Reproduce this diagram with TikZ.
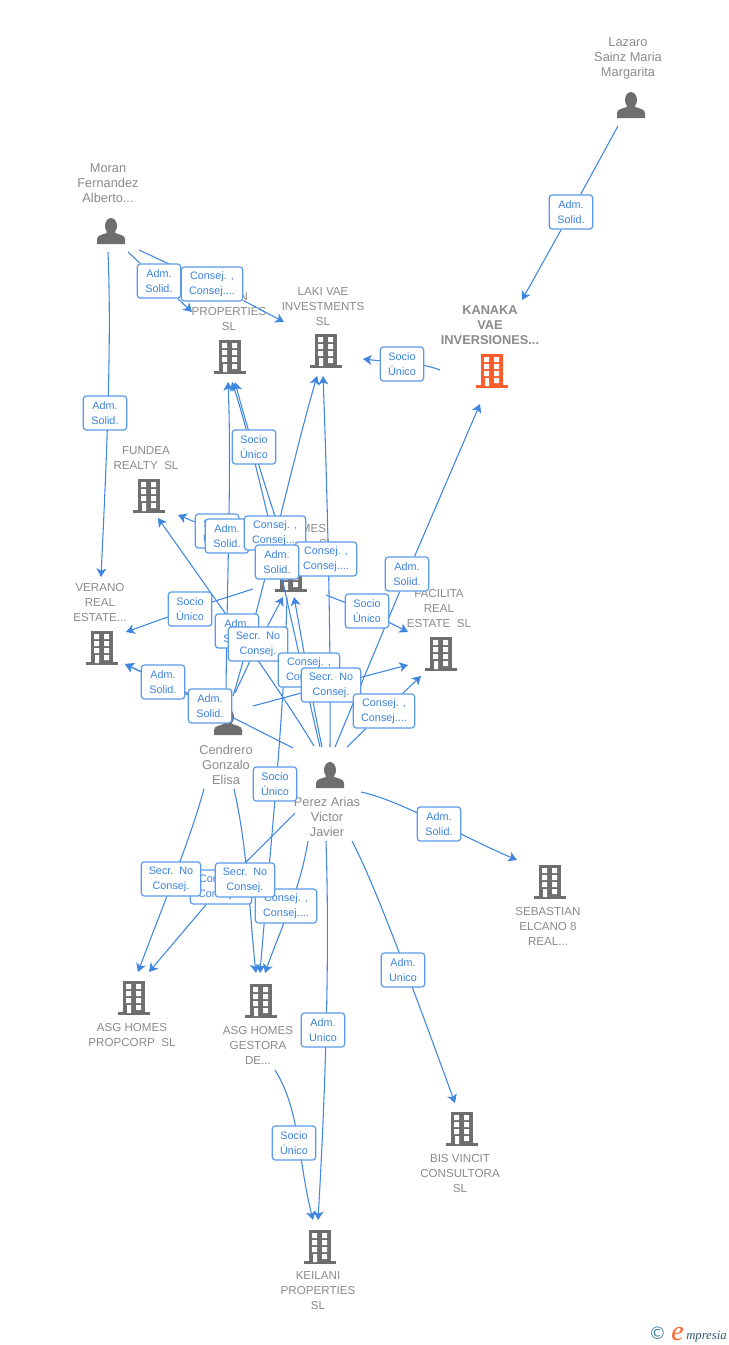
\documentclass[tikz,border=0pt]{standalone}
\usepackage{fontspec}
\setmainfont{Liberation Sans}
\newfontfamily\logoserif{Liberation Serif}
\newfontfamily\dejavu{DejaVu Sans}
\usetikzlibrary{arrows.meta}
\definecolor{edgeblue}{HTML}{3F86E0}
\definecolor{boxblue}{HTML}{5B9AE8}
\definecolor{labblue}{HTML}{3B82DC}
\definecolor{entgray}{HTML}{8A8A8A}
\definecolor{icongray}{HTML}{6E6E6E}
\definecolor{iconorange}{HTML}{FF5E2C}
\definecolor{logoteal}{HTML}{3F7F9F}
\pgfdeclarelayer{ents}
\pgfdeclarelayer{edges}
\pgfsetlayers{ents,edges,main}
\tikzset{
  x=0.75pt,y=-0.75pt,
  edge/.style={draw=edgeblue,line width=0.8pt,-{Stealth[length=6.5pt,width=7.5pt,inset=1.8pt]}},
  linkbox/.style={draw=boxblue,line width=0.9pt,fill=white,rounded corners=2.2pt,text=labblue,
    font=\fontsize{8.1}{11.25}\selectfont,align=center,inner sep=0pt,minimum height=25.5pt},
  sbox/.style={linkbox,minimum width=32.5pt},
  mbox/.style={linkbox,minimum width=44.5pt},
  cbox/.style={linkbox,minimum width=46pt},
  ent/.style={text=entgray,font=\fontsize{8.7}{11.25}\selectfont,align=center,inner sep=0pt},
  pers/.style={ent,font=\fontsize{9.6}{11.25}\selectfont},
  entb/.style={ent,font=\fontsize{9.6}{11.25}\selectfont\bfseries},
  pics/bldg/.style={code={
    \fill[#1] (-11,-17) rectangle (11,15);
    \fill[#1] (-16,14) rectangle (16,17);
    \fill[white] (-8,-14) rectangle (-3,-9) (2,-14) rectangle (7,-9)
      (-8,-7) rectangle (-3,-2) (2,-7) rectangle (7,-2)
      (-8,0) rectangle (-3,5) (2,0) rectangle (7,5)
      (-7,7) rectangle (-3,15) (2,7) rectangle (7,12);
  }},
  pics/person/.style={code={
    \fill[icongray] (0,-5) ellipse (6 and 8);
    \fill[icongray] (-14,13) -- (-14,8) .. controls (-14,3) and (-6,4) .. (-3,1) -- (3,1)
      .. controls (6,4) and (14,3) .. (14,8) -- (14,13) -- cycle;
  }},
}
\newcommand{\Adm}{Adm.\\Solid.}
\newcommand{\Soc}{Socio\\Único}
\newcommand{\Con}{Consej. ,\\Consej....}
\newcommand{\Sec}{Secr.\ \ No\\Consej.}
\newcommand{\Uni}{Adm.\\Unico}
\begin{document}
\begin{tikzpicture}
\useasboundingbox (0,0) rectangle (728,1345);

% ---------- link labels (painted in stacking order)
\node[sbox] (l1)  at (571,212) {\Adm};
\node[sbox] (l2)  at (159,281) {\Adm};
\node[cbox] (l3)  at (212,284) {\Con};
\node[sbox] (l4)  at (105,413) {\Adm};
\node[sbox] (l5)  at (402,364) {\Soc};
\node[sbox] (l6)  at (254,447) {\Soc};
\node[sbox] (l7)  at (217,531) {\Soc};
\node[sbox] (l8)  at (227,536) {\Adm};
\node[cbox] (l9)  at (275,533) {\Con};
\node[cbox] (l10) at (326,559) {\Con};
\node[sbox] (l11) at (277,562) {\Adm};
\node[sbox] (l12) at (407,574) {\Adm};
\node[sbox] (l13) at (190,609) {\Soc};
\node[sbox] (l14) at (367,611) {\Soc};
\node[sbox] (l15) at (237,631) {\Adm};
\node[mbox] (l16) at (258,644) {\Sec};
\node[cbox] (l17) at (309,670) {\Con};
\node[mbox] (l18) at (331,685) {\Sec};
\node[cbox] (l19) at (384,711) {\Con};
\node[sbox] (l20) at (163,682) {\Adm};
\node[sbox] (l21) at (210,706) {\Adm};
\node[sbox] (l22) at (275,784) {\Soc};
\node[sbox] (l23) at (439,824) {\Adm};
\node[cbox] (l24) at (221,887) {\Con};
\node[cbox] (l25) at (286,906) {\Con};
\node[mbox] (l26) at (171,879) {\Sec};
\node[mbox] (l27) at (245,880) {\Sec};
\node[sbox] (l28) at (403,970) {\Uni};
\node[sbox] (l29) at (323,1030) {\Uni};
\node[sbox] (l30) at (294,1143) {\Soc};

% ---------- entities
\begin{pgfonlayer}{ents}
\node[pers] (lazaro) at (628,58.5) {Lazaro\\Sainz Maria\\Margarita};
\pic at (631,105) {person};
\node[pers] (moran) at (108,183) {Moran\\Fernandez\\Alberto...};
\pic at (111,231) {person};
\node[pers] (cendrero) at (226,765) {Cendrero\\Gonzalo\\Elisa};
\pic at (228,722) {person};
\node[pers] (perez) at (327,817) {Perez Arias\\Victor\\Javier};
\pic at (330,775) {person};
\node[entb] (kanaka) at (490,325) {KANAKA\\VAE\\INVERSIONES...};
\pic at (492,371) {bldg=iconorange};
\node[ent] (laki) at (323,306.5) {LAKI VAE\\INVESTMENTS\\SL};
\pic at (326,351) {bldg=icongray};
\node[ent] (props) at (229,311.5) {\hphantom{MMM}N\\PROPERTIES\\SL};
\pic at (230,357) {bldg=icongray};
\node[ent] (fundea) at (146,458.5) {FUNDEA\\REALTY\ \ SL};
\pic at (149,496) {bldg=icongray};
\node[ent] (verano) at (100,602.5) {VERANO\\REAL\\ESTATE...};
\pic at (102,648) {bldg=icongray};
\node[ent] (facilita) at (439,608.5) {FACILITA\\REAL\\ESTATE\ \ SL};
\pic at (441,654) {bldg=icongray};
\node[ent] (homes) at (291,536) {\hphantom{ASG HO}MES\\\hphantom{ASG HOMES}SL};
\pic at (291,575) {bldg=icongray};
\node[ent] (sebastian) at (548,926) {SEBASTIAN\\ELCANO 8\\REAL...};
\pic at (550,882) {bldg=icongray};
\node[ent] (bis) at (460,1173) {BIS VINCIT\\CONSULTORA\\SL};
\pic at (462,1129) {bldg=icongray};
\node[ent] (gestora) at (258,1045) {ASG HOMES\\GESTORA\\DE...};
\pic at (261,1001) {bldg=icongray};
\node[ent] (propcorp) at (132,1034.5) {ASG HOMES\\PROPCORP\ \ SL};
\pic at (134,998) {bldg=icongray};
\node[ent] (keilani) at (318,1291) {KEILANI\\PROPERTIES\\SL};
\pic at (320,1247) {bldg=icongray};
\end{pgfonlayer}

% ---------- connector ends
\coordinate (lazS) at (618,126);
\coordinate (kanT1) at (522,300);
\coordinate (morS1) at (128,252);
\coordinate (morS2) at (139,250);
\coordinate (morS3) at (108,252);
\coordinate (prpT1) at (192,312);
\coordinate (lakT1) at (284,322);
\coordinate (verT1) at (101,577);
\coordinate (kanS) at (440,370);
\coordinate (lakT2) at (363,359);
\coordinate (perK) at (335,747);
\coordinate (kanT2) at (480,404);
\coordinate (prpT2) at (228,382);
\coordinate (prpT3) at (232,382);
\coordinate (prpT4) at (235,382);
\coordinate (lakT3) at (317,376);
\coordinate (lakT4) at (323,376);
\coordinate (cenA) at (226,712);
\coordinate (cenB) at (233,696);
\coordinate (cenC) at (235,693);
\coordinate (cenD) at (253,706);
\coordinate (cenE) at (198,698);
\coordinate (homA) at (277,522);
\coordinate (homB) at (253,589);
\coordinate (homC) at (326,595);
\coordinate (homD) at (250,545);
\coordinate (homE) at (287,598);
\coordinate (perA) at (320,747);
\coordinate (perB) at (330,747);
\coordinate (perC) at (322,747);
\coordinate (perD) at (314,746);
\coordinate (perE) at (347,747);
\coordinate (perF) at (293,748);
\coordinate (fndT1) at (158,518);
\coordinate (fndT2) at (178,515);
\coordinate (verT2) at (126,632);
\coordinate (verT3) at (125,664);
\coordinate (facT1) at (408,632);
\coordinate (facT2) at (408,665);
\coordinate (facT3) at (421,676);
\coordinate (homT1) at (283,597);
\coordinate (homT2) at (294,597);
\coordinate (cenL1) at (204,789);
\coordinate (cenL2) at (234,789);
\coordinate (perL1) at (295,813);
\coordinate (perL2) at (308,841);
\coordinate (perL3) at (326,841);
\coordinate (perL4) at (352,841);
\coordinate (perL5) at (361,792);
\coordinate (pcoT1) at (138,972);
\coordinate (pcoT2) at (149,972);
\coordinate (gesT1) at (256,973);
\coordinate (gesT2) at (260,973);
\coordinate (gesT3) at (265,973);
\coordinate (gesS) at (275,1070);
\coordinate (keiT1) at (318,1220);
\coordinate (keiT2) at (313,1220);
\coordinate (bisT) at (455,1103);
\coordinate (sebT) at (517,860);

% ---------- connectors
\begin{pgfonlayer}{edges}
\draw[edge] (lazS) -- (l1) -- (kanT1);
\draw[edge] (morS1) -- (l2) -- (prpT1);
\draw[edge] (morS2) -- (l3) -- (lakT1);
\draw[edge] (morS3) .. controls (112,350) and (106,470) .. (verT1);
\draw[edge] (kanS) .. controls (420,362) and (390,362) .. (lakT2);
\draw[edge] (perK) -- (l12) -- (kanT2);
\draw[edge] (homA) .. controls (266,490) and (245,420) .. (prpT4);
\draw[edge] (cenA) .. controls (226,600) and (232,480) .. (prpT2);
\draw[edge] (perA) .. controls (295,640) and (258,460) .. (prpT3);
\draw[edge] (cenB) .. controls (262,600) and (290,470) .. (lakT3);
\draw[edge] (perB) .. controls (331,640) and (327,480) .. (lakT4);
\draw[edge] (homD) -- (l7) -- (fndT2);
\draw[edge] (perD) .. controls (280,690) and (230,620) .. (fndT1);
\draw[edge] (homB) -- (l13) -- (verT2);
\draw[edge] (homC) -- (l14) -- (facT1);
\draw[edge] (cenC) -- (l16) -- (homT1);
\draw[edge] (perC) .. controls (312,700) and (302,640) .. (homT2);
\draw[edge] (cenD) -- (l18) -- (facT2);
\draw[edge] (perE) -- (l19) -- (facT3);
\draw[edge] (cenE) -- (l20) -- (verT3);
\draw[edge] (perF) -- (l21) -- (verT3);
\draw[edge] (homE) .. controls (284,720) and (270,850) .. (gesT2);
\draw[edge] (perL5) .. controls (400,800) and (465,838) .. (sebT);
\draw[edge] (cenL1) .. controls (190,840) and (165,900) .. (pcoT1);
\draw[edge] (perL1) -- (l24) -- (pcoT2);
\draw[edge] (cenL2) .. controls (248,850) and (250,920) .. (gesT1);
\draw[edge] (perL2) .. controls (300,890) and (282,925) .. (gesT3);
\draw[edge] (perL3) .. controls (330,960) and (325,1100) .. (keiT1);
\draw[edge] (perL4) .. controls (375,885) and (410,980) .. (bisT);
\draw[edge] (gesS) .. controls (300,1110) and (298,1160) .. (keiT2);
\end{pgfonlayer}

% ---------- logo
\node[inner sep=0pt,text=logoteal] (copy) at (657.5,1333) {\dejavu\fontsize{13}{13}\selectfont ©};
\node[inner sep=0pt,text=iconorange,anchor=base west] (loge) at (671,1340) {\logoserif\itshape\fontsize{21}{21}\selectfont e};
\node[inner sep=0pt,text=logoteal!70!black,anchor=base west] (logt) at (686,1339) {\logoserif\itshape\fontsize{9.5}{11}\selectfont mpresia};
\end{tikzpicture}
\end{document}
